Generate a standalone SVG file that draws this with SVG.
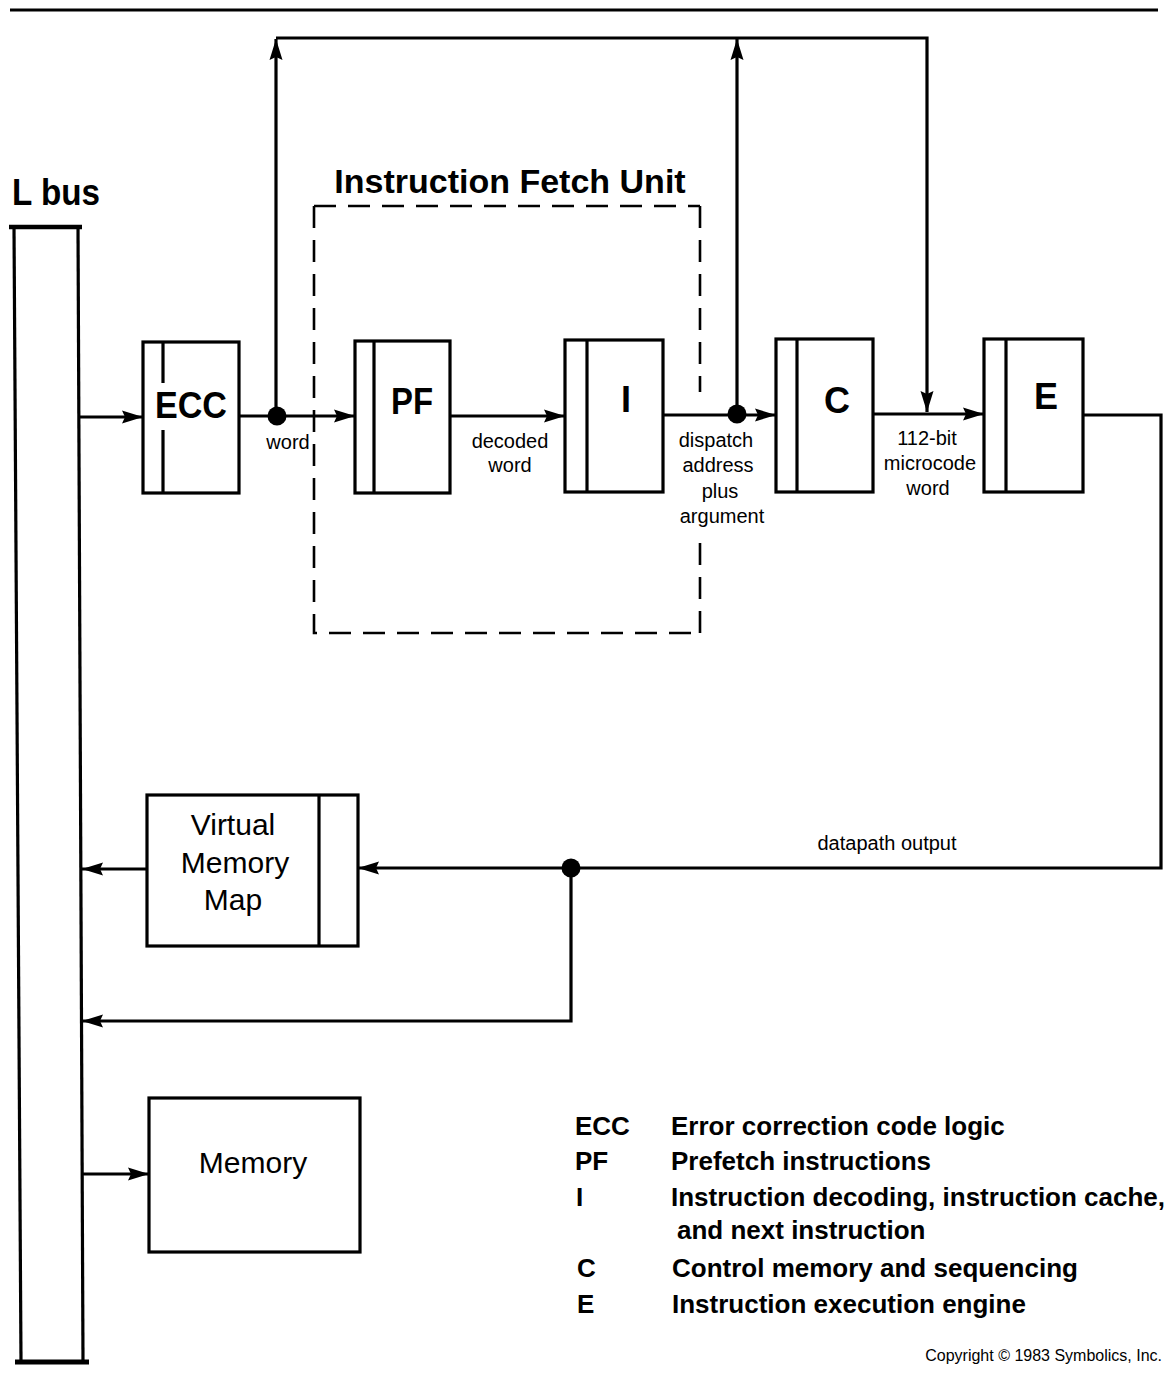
<svg xmlns="http://www.w3.org/2000/svg" width="1169" height="1373" viewBox="0 0 1169 1373">
<style>
  .ln{fill:none;stroke:#000;stroke-width:3.2}
  .box{fill:#fff;stroke:#000;stroke-width:3.2}
  .dash{fill:none;stroke:#000;stroke-width:2.6;stroke-dasharray:22 12}
  .blk{font-family:"Liberation Sans",Arial,sans-serif;font-weight:bold;font-size:36px;text-anchor:middle}
  .lbl{font-family:"Liberation Sans",Arial,sans-serif;font-size:20px;text-anchor:middle}
  .big{font-family:"Liberation Sans",Arial,sans-serif;font-size:30px;text-anchor:middle}
  .leg{font-family:"Liberation Sans",Arial,sans-serif;font-weight:bold;font-size:26px}
  .dot{fill:#000}
</style>
<defs>
  <marker id="ah" markerUnits="userSpaceOnUse" markerWidth="21" markerHeight="14" refX="21" refY="7" orient="auto">
    <path d="M0,0.5 L21,7 L0,13.5 L3,7 z" fill="#000"/>
  </marker>
</defs>
<rect width="1169" height="1373" fill="#fff"/>
<line class="ln" x1="10" y1="10" x2="1158" y2="10"/>

<g id="lbus">
  <text x="12" y="205" font-family="Liberation Sans, Arial, sans-serif" font-weight="bold" font-size="36" textLength="88" lengthAdjust="spacingAndGlyphs">L bus</text>
  <line x1="9" y1="227" x2="82" y2="227" stroke="#000" stroke-width="4.5"/>
  <line class="ln" x1="14" y1="227" x2="21" y2="1362"/>
  <line class="ln" x1="78" y1="227" x2="83" y2="1362"/>
  <line x1="15" y1="1362" x2="89" y2="1362" stroke="#000" stroke-width="5"/>
</g>

<g id="ifu">
  <text x="510" y="193" font-family="Liberation Sans, Arial, sans-serif" font-weight="bold" font-size="34" text-anchor="middle">Instruction Fetch Unit</text>
  <path class="dash" d="M314,206 H700"/>
  <path class="dash" d="M314,206 V633 H700"/>
  <path class="dash" d="M700,206 V392"/>
  <path class="dash" d="M700,633 V543"/>
</g>

<g id="ecc">
  <rect class="box" x="143" y="342" width="96" height="151"/>
  <line class="ln" x1="163" y1="342" x2="163" y2="383"/>
  <line class="ln" x1="163" y1="430" x2="163" y2="493"/>
  <text class="blk" x="191" y="418" textLength="72" lengthAdjust="spacingAndGlyphs">ECC</text>
</g>
<g id="pf">
  <rect class="box" x="355" y="341" width="95" height="152"/>
  <line class="ln" x1="374" y1="341" x2="374" y2="493"/>
  <text class="blk" x="412" y="414" textLength="42" lengthAdjust="spacingAndGlyphs">PF</text>
</g>
<g id="i">
  <rect class="box" x="565" y="340" width="98" height="152"/>
  <line class="ln" x1="587" y1="340" x2="587" y2="492"/>
  <text class="blk" x="626" y="412">I</text>
</g>
<g id="c">
  <rect class="box" x="776" y="339" width="97" height="153"/>
  <line class="ln" x1="797" y1="339" x2="797" y2="492"/>
  <text class="blk" x="837" y="413">C</text>
</g>
<g id="e">
  <rect class="box" x="984" y="339" width="99" height="153"/>
  <line class="ln" x1="1006" y1="339" x2="1006" y2="492"/>
  <text class="blk" x="1046" y="409">E</text>
</g>
<g id="vmm">
  <rect class="box" x="147" y="795" width="211" height="151"/>
  <line class="ln" x1="319" y1="795" x2="319" y2="946"/>
  <text class="big" x="233" y="835">Virtual</text>
  <text class="big" x="235" y="873">Memory</text>
  <text class="big" x="233" y="910">Map</text>
</g>
<g id="memory">
  <rect class="box" x="149" y="1098" width="211" height="154"/>
  <text class="big" x="253" y="1173">Memory</text>
</g>

<g id="connectors">
  <path class="ln" d="M80,417 H143" marker-end="url(#ah)"/>
  <path class="ln" d="M239,416 H355" marker-end="url(#ah)"/>
  <path class="ln" d="M450,416 H565" marker-end="url(#ah)"/>
  <path class="ln" d="M663,415 H776" marker-end="url(#ah)"/>
  <path class="ln" d="M873,414 H984" marker-end="url(#ah)"/>
  <path class="ln" d="M276,416 V39" marker-end="url(#ah)"/>
  <path class="ln" d="M276,38 H927 V412" marker-end="url(#ah)"/>
  <path class="ln" d="M737,415 V39" marker-end="url(#ah)"/>
  <path class="ln" d="M1083,415 H1161 V868 H358" marker-end="url(#ah)"/>
  <path class="ln" d="M147,869 H82" marker-end="url(#ah)"/>
  <path class="ln" d="M571,868 V1021 H82" marker-end="url(#ah)"/>
  <path class="ln" d="M82,1174 H149" marker-end="url(#ah)"/>
  <circle class="dot" cx="277" cy="416" r="9.5"/>
  <circle class="dot" cx="737" cy="414" r="9.5"/>
  <circle class="dot" cx="571" cy="868" r="9.5"/>
  <text class="lbl" x="288" y="449">word</text>
  <text class="lbl" x="510" y="448">decoded</text>
  <text class="lbl" x="510" y="472">word</text>
  <text class="lbl" x="716" y="447">dispatch</text>
  <text class="lbl" x="718" y="472">address</text>
  <text class="lbl" x="720" y="498">plus</text>
  <text class="lbl" x="722" y="523">argument</text>
  <text class="lbl" x="927" y="445">112-bit</text>
  <text class="lbl" x="930" y="470">microcode</text>
  <text class="lbl" x="928" y="495">word</text>
  <text class="lbl" x="887" y="850">datapath output</text>
</g>

<g id="legend">
  <text class="leg" x="575" y="1135">ECC</text>
  <text class="leg" x="671" y="1135">Error correction code logic</text>
  <text class="leg" x="575" y="1170">PF</text>
  <text class="leg" x="671" y="1170">Prefetch instructions</text>
  <text class="leg" x="576" y="1206">I</text>
  <text class="leg" x="671" y="1206">Instruction decoding, instruction cache,</text>
  <text class="leg" x="677" y="1239">and next instruction</text>
  <text class="leg" x="577" y="1277">C</text>
  <text class="leg" x="672" y="1277">Control memory and sequencing</text>
  <text class="leg" x="577" y="1313">E</text>
  <text class="leg" x="672" y="1313">Instruction execution engine</text>
  <text x="1162" y="1361" font-family="Liberation Sans, Arial, sans-serif" font-size="16" text-anchor="end">Copyright © 1983 Symbolics, Inc.</text>
</g>
</svg>
